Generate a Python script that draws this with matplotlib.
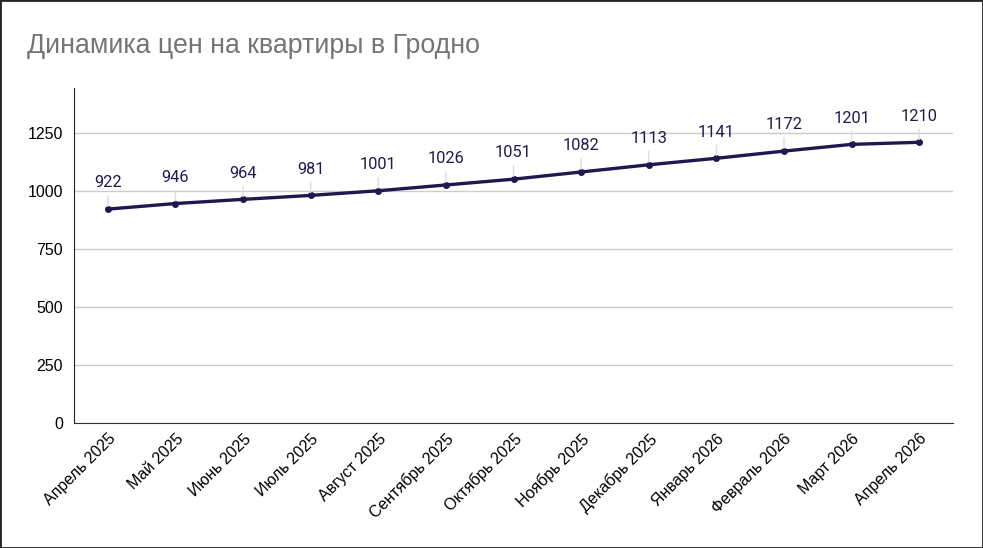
import matplotlib.pyplot as plt
from matplotlib.patches import Rectangle

months = ["Апрель 2025", "Май 2025", "Июнь 2025", "Июль 2025", "Август 2025",
          "Сентябрь 2025", "Октябрь 2025", "Ноябрь 2025", "Декабрь 2025",
          "Январь 2026", "Февраль 2026", "Март 2026", "Апрель 2026"]
prices = [922, 946, 964, 981, 1001, 1026, 1051, 1082, 1113, 1141, 1172, 1201, 1210]
yticks = [0, 250, 500, 750, 1000, 1250]

plt.rcParams['font.family'] = ['Liberation Sans', 'DejaVu Sans']

fig = plt.figure(figsize=(9.83, 5.48), dpi=100)
ax = fig.add_axes([74/983, 1-423/548, (953-74)/983, (423-88)/548])

x = list(range(len(prices)))
ax.plot(x, prices, color='#22164f', linewidth=2.4, marker='o', markersize=4, zorder=3)

# labels with short leader lines
for xi, v in zip(x, prices):
    ax.annotate(str(v), (xi, v), xytext=(0, 13.5), textcoords='offset points',
                ha='center', va='bottom', fontsize=11.8, color='#1f1a4f',
                family=['Roboto', 'DejaVu Sans'],
                arrowprops=dict(arrowstyle='-', color='#dddddd', lw=1, shrinkA=2, shrinkB=2))

ax.set_xlim(-0.5, len(prices) - 0.5)
ax.set_ylim(0, 1444)
ax.set_yticks(yticks)
ax.set_xticks(x)
ax.set_xticklabels(months, rotation=45, ha='right', rotation_mode='anchor', fontsize=11.5)
ax.tick_params(axis='y', labelsize=11.5, length=0, pad=8)
ax.tick_params(axis='x', length=0, pad=6)
ax.grid(axis='y', color='#cccccc', linewidth=1)
ax.set_axisbelow(True)
for s in ['top', 'right']:
    ax.spines[s].set_visible(False)
ax.spines['left'].set_color('#222222')
ax.spines['bottom'].set_color('#333333')

fig.text(27/983, 1-46/548, "Динамика цен на квартиры в Гродно", fontsize=19.3,
         color='#757575', va='center', ha='left')

fig.patches.append(Rectangle((0, 0), 1, 1, transform=fig.transFigure, fill=False,
                             edgecolor='#222222', linewidth=2))

fig.savefig('out.png', dpi=100)
